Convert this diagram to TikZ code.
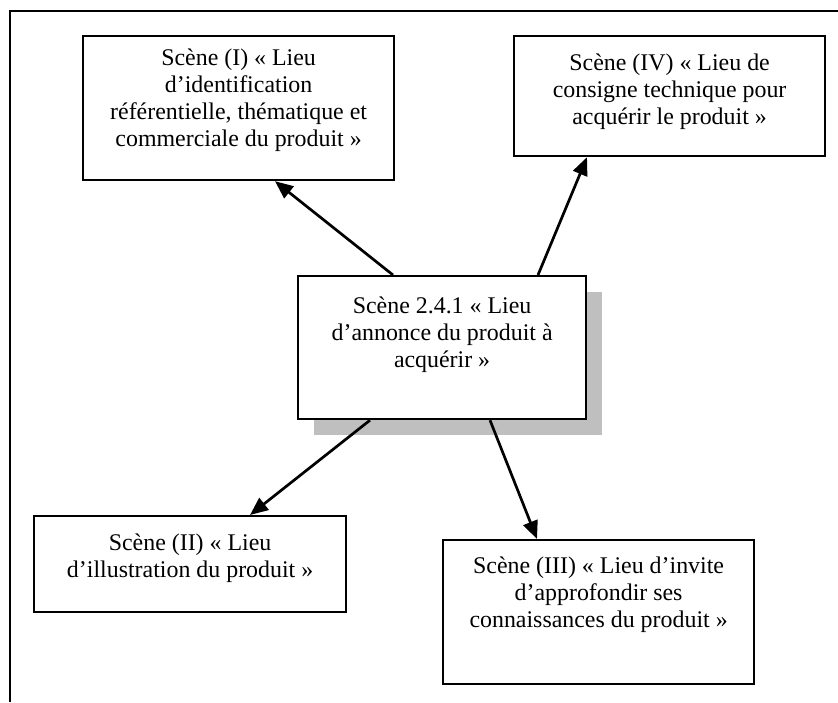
\documentclass[tikz,border=0pt]{standalone}
\usepackage{fontspec}
\setmainfont{Liberation Serif}
\usetikzlibrary{arrows.meta,calc,shadows}
\tikzset{
  scenebox/.style={draw=black, line width=2.2pt, fill=white, anchor=north west, inner sep=0pt},
  scenetext/.style={font=\fontsize{23.9}{27}\selectfont, align=center, inner sep=0pt, anchor=north},
  conn/.style={line width=2.7pt, -{Triangle[length=18pt,width=15pt]}},
}
\begin{document}
\begin{tikzpicture}[x=1pt,y=-1pt]
\useasboundingbox (0,0) rectangle (838,702);
\fill[white] (0,0) rectangle (838,702);
% frame
\draw[line width=2.2pt] (838,11) -- (10,11) -- (10,702);
% boxes
\node[scenebox, minimum width=311pt, minimum height=144pt,
  label={[scenetext, yshift=-14pt]north:{Scène (I) « Lieu\\d’identification\\référentielle, thématique et\\commerciale du produit »}}]
  (b1) at (82,35) {};
\node[scenebox, minimum width=311pt, minimum height=120pt,
  label={[scenetext, yshift=-19pt]north:{Scène (IV) « Lieu de\\consigne technique pour\\acquérir le produit »}}]
  (b4) at (513,35) {};
\node[scenebox, minimum width=288pt, minimum height=143pt,
  general shadow={fill=black!25, shadow xshift=16pt, shadow yshift=-16pt},
  label={[scenetext, yshift=-22pt]north:{Scène 2.4.1 « Lieu\\d’annonce du produit à\\acquérir »}}]
  (c) at (297,275) {};
\node[scenebox, minimum width=312pt, minimum height=96pt,
  label={[scenetext, yshift=-19pt]north:{Scène (II) « Lieu\\d’illustration du produit »}}]
  (b2) at (33,515) {};
\node[scenebox, minimum width=311pt, minimum height=144pt,
  label={[scenetext, yshift=-18pt]north:{Scène (III) « Lieu d’invite\\d’approfondir ses\\connaissances du produit »}}]
  (b3) at (442,539) {};
% connectors
\draw[conn] ($(c.north west)+(96,0)$) -- ($(b1.south west)+(193,0)$);
\draw[conn] ($(c.north west)+(241,0)$) -- ($(b4.south west)+(74,0)$);
\draw[conn] ($(c.south west)+(73,0)$) -- ($(b2.north west)+(217,0)$);
\draw[conn] ($(c.south west)+(193,0)$) -- ($(b3.north west)+(95,0)$);
\end{tikzpicture}
\end{document}
